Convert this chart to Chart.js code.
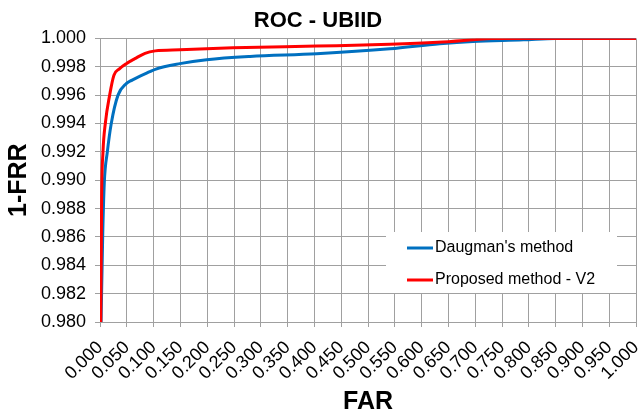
<!DOCTYPE html>
<html>
<head>
<meta charset="utf-8">
<script src="https://cdn.jsdelivr.net/npm/chart.js@4"></script>
<style>
  html, body { margin: 0; padding: 0; background: #fff; }
  #wrap { width: 638px; height: 417px; }
</style>
</head>
<body>
<div id="wrap"><canvas id="rocChart" width="638" height="417"></canvas></div>
<script>
// ROC curves
const farDaugman = [0.002, 0.005, 0.008, 0.0137, 0.021, 0.0336, 0.049, 0.060, 0.071, 0.093, 0.103, 0.149, 0.199, 0.280, 0.404, 0.541, 0.634, 0.696, 0.790, 0.850, 1.000];
const valDaugman = [0.980, 0.986, 0.9898, 0.9920, 0.9940, 0.9960, 0.99681, 0.99706, 0.99727, 0.99765, 0.99782, 0.99822, 0.99850, 0.99873, 0.99892, 0.99927, 0.99963, 0.99979, 0.99990, 1.000, 1.000];

const farProposed = [0.0015, 0.003, 0.0056, 0.0099, 0.018, 0.026, 0.0367, 0.049, 0.065, 0.084, 0.103, 0.149, 0.248, 0.404, 0.541, 0.630, 0.696, 0.730, 1.000];
const valProposed = [0.980, 0.9886, 0.9920, 0.9940, 0.9960, 0.9974, 0.99787, 0.99822, 0.99857, 0.99895, 0.99912, 0.99920, 0.99934, 0.99946, 0.99958, 0.99972, 0.99990, 1.000, 1.000];

const xTicks = [0.000, 0.050, 0.100, 0.150, 0.200, 0.250, 0.300, 0.350, 0.400, 0.450, 0.500, 0.550, 0.600, 0.650, 0.700, 0.750, 0.800, 0.850, 0.900, 0.950, 1.000];
const yTicks = [0.980, 0.982, 0.984, 0.986, 0.988, 0.990, 0.992, 0.994, 0.996, 0.998, 1.000];

const seriesNames = ["Daugman's method", 'Proposed method - V2'];

const toPoints = (xs, ys) => xs.map((x, i) => ({ x: x, y: ys[i] }));

const gridColor = '#a0a0a0';
const fontFamily = '"Liberation Sans", Arial, sans-serif';

// legend drawn inside the plot, white box over the grid
const insideLegend = {
    id: 'insideLegend',
    afterDatasetsDraw(chart) {
        const ctx = chart.ctx;
        const ca = chart.chartArea;
        const boxW = 231, boxH = 61;
        const bx = ca.right - 19 - boxW;
        const by = ca.bottom - 29 - boxH;
        ctx.save();
        ctx.fillStyle = '#ffffff';
        ctx.fillRect(bx, by, boxW, boxH);
        ctx.font = '16px ' + fontFamily;
        ctx.textBaseline = 'middle';
        // keep legend order by index, not by draw order
        [0, 1].forEach(i => {
            const ds = chart.data.datasets[i];
            const y = by + 16 + i * 32;
            ctx.strokeStyle = ds.borderColor;
            ctx.lineWidth = 3;
            ctx.beginPath();
            ctx.moveTo(bx + 21, y);
            ctx.lineTo(bx + 47, y);
            ctx.stroke();
            ctx.fillStyle = '#000';
            ctx.fillText(ds.label, bx + 49, y);
        });
        ctx.restore();
    }
};

const ctx = document.getElementById('rocChart').getContext('2d');
new Chart(ctx, {
    type: 'line',
    data: {
        datasets: [
            {
                label: seriesNames[0],
                data: toPoints(farDaugman, valDaugman),
                borderColor: '#0070c0',
                borderWidth: 3,
                pointRadius: 0,
                order: 1,
                cubicInterpolationMode: 'monotone'
            },
            {
                label: seriesNames[1],
                data: toPoints(farProposed, valProposed),
                borderColor: '#ff0000',
                borderWidth: 3,
                pointRadius: 0,
                order: 0, // red sits on top
                cubicInterpolationMode: 'monotone'
            }
        ]
    },
    options: {
        responsive: false,
        animation: false,
        layout: { padding: { top: 0, right: 2, bottom: 0, left: 0 } },
        plugins: {
            legend: { display: false },
            tooltip: { enabled: false },
            title: {
                display: true,
                text: 'ROC - UBIID',
                color: '#000',
                font: { family: fontFamily, size: 22, weight: 'bold' },
                padding: { top: 8, bottom: 4 }
            }
        },
        scales: {
            x: {
                type: 'linear',
                min: 0,
                max: 1,
                afterFit: s => {
                    s.height = 95;
                    s.paddingLeft = 0;
                    s.paddingRight = 0;
                },
                afterBuildTicks: s => { s.ticks = xTicks.map(v => ({ value: v })); },
                grid: { color: gridColor, tickLength: 5 },
                border: { color: gridColor },
                ticks: {
                    autoSkip: false,
                    minRotation: 45,
                    maxRotation: 45,
                    padding: 10,
                    color: '#000',
                    font: { family: fontFamily, size: 18 },
                    callback: v => Number(v).toFixed(3)
                },
                title: {
                    display: true,
                    text: 'FAR',
                    color: '#000',
                    font: { family: fontFamily, size: 25, weight: 'bold' },
                    padding: 0
                }
            },
            y: {
                type: 'linear',
                min: 0.980,
                max: 1.000,
                afterFit: s => { s.width = 100; },
                afterBuildTicks: s => { s.ticks = yTicks.map(v => ({ value: v })); },
                grid: { color: gridColor, tickLength: 5 },
                border: { color: gridColor },
                ticks: {
                    padding: 9,
                    color: '#000',
                    font: { family: fontFamily, size: 18 },
                    callback: v => Number(v).toFixed(3)
                },
                title: {
                    display: true,
                    text: '1-FRR',
                    color: '#000',
                    font: { family: fontFamily, size: 25, weight: 'bold' },
                    padding: { top: 4, bottom: 0 }
                }
            }
        }
    },
    plugins: [insideLegend]
});
</script>
</body>
</html>
